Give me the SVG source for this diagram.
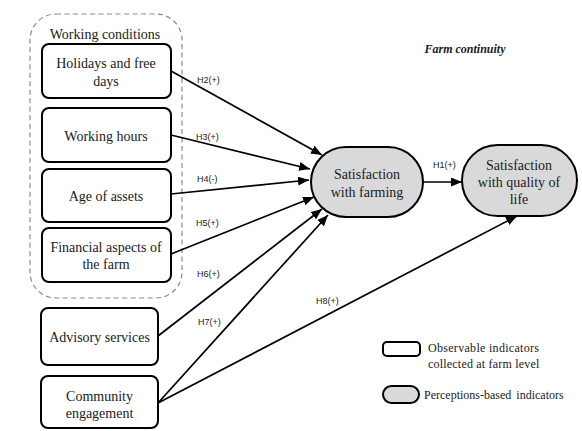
<svg xmlns="http://www.w3.org/2000/svg" width="582" height="431" viewBox="0 0 582 431">
  <style>
    .box { fill: #ffffff; stroke: #000000; stroke-width: 2; }
    .oval { fill: #d9d9d9; stroke: #000000; stroke-width: 2; }
    .group { fill: none; stroke: #8c8c8c; stroke-width: 1.2; stroke-dasharray: 5 3.5; }
    .serif { font-family: "Liberation Serif", Tinos, "DejaVu Serif", serif; }
    .t { font-size: 14px; fill: #1a1a1a; text-anchor: middle; }
    .leg { font-size: 12px; fill: #1a1a1a; }
    .lbl { font-family: "Liberation Sans", Arial, sans-serif; font-size: 9px; fill: #222222; }
    .edge { fill: none; stroke: #000000; stroke-width: 1.7; }
  </style>
  <defs>
    <marker id="arrow" markerUnits="userSpaceOnUse" markerWidth="12" markerHeight="10" refX="11" refY="4.5" orient="auto">
      <path d="M0,0 L11,4.5 L0,9 Z" fill="#000000"/>
    </marker>
  </defs>

  <rect width="582" height="431" fill="#ffffff"/>

  <!-- dashed grouping of working conditions -->
  <g id="working-conditions">
    <rect class="group" x="30" y="14" width="152" height="284" rx="26" ry="26"/>
    <text class="t serif" x="105" y="39">Working conditions</text>
  </g>

  <g id="title">
    <text class="serif" x="465" y="53" font-size="12" font-weight="bold" font-style="italic" text-anchor="middle" fill="#1a1a1a">Farm continuity</text>
  </g>

  <!-- connectors -->
  <g id="connectors">
    <line class="edge" x1="171" y1="71" x2="322" y2="155" marker-end="url(#arrow)"/>
    <line class="edge" x1="171" y1="135" x2="310" y2="169" marker-end="url(#arrow)"/>
    <line class="edge" x1="171" y1="194" x2="309" y2="180" marker-end="url(#arrow)"/>
    <line class="edge" x1="171" y1="254" x2="314" y2="197" marker-end="url(#arrow)"/>
    <line class="edge" x1="158" y1="336" x2="322" y2="209" marker-end="url(#arrow)"/>
    <line class="edge" x1="158" y1="403" x2="328" y2="215" marker-end="url(#arrow)"/>
    <line class="edge" x1="158" y1="403" x2="517" y2="216" marker-end="url(#arrow)"/>
    <line class="edge" x1="423" y1="182" x2="462" y2="182" marker-end="url(#arrow)"/>
    <text class="lbl" x="197" y="83">H2(+)</text>
    <text class="lbl" x="196" y="140">H3(+)</text>
    <text class="lbl" x="197" y="182">H4(-)</text>
    <text class="lbl" x="196" y="226">H5(+)</text>
    <text class="lbl" x="197" y="277">H6(+)</text>
    <text class="lbl" x="198" y="325">H7(+)</text>
    <text class="lbl" x="316" y="304">H8(+)</text>
    <text class="lbl" x="433" y="168">H1(+)</text>
  </g>

  <g id="holidays">
    <rect class="box" x="42" y="44" width="129" height="54" rx="7"/>
    <text class="t serif" x="106" y="68">Holidays and free</text>
    <text class="t serif" x="106" y="86">days</text>
  </g>
  <g id="working-hours">
    <rect class="box" x="42" y="108" width="129" height="54" rx="7"/>
    <text class="t serif" x="106" y="141">Working hours</text>
  </g>
  <g id="age-of-assets">
    <rect class="box" x="42" y="169" width="129" height="53" rx="7"/>
    <text class="t serif" x="106" y="201">Age of assets</text>
  </g>
  <g id="financial">
    <rect class="box" x="42" y="228" width="129" height="54" rx="7"/>
    <text class="t serif" x="106" y="252">Financial aspects of</text>
    <text class="t serif" x="106" y="269">the farm</text>
  </g>
  <g id="advisory">
    <rect class="box" x="41" y="308" width="117" height="57" rx="7"/>
    <text class="t serif" x="99.5" y="342">Advisory services</text>
  </g>
  <g id="community">
    <rect class="box" x="41" y="376" width="117" height="52" rx="7"/>
    <text class="t serif" x="99.5" y="401">Community</text>
    <text class="t serif" x="99.5" y="418">engagement</text>
  </g>

  <g id="satisfaction-farming">
    <rect class="oval" x="311" y="147" width="112" height="70" rx="35" ry="35"/>
    <text class="t serif" x="367" y="179">Satisfaction</text>
    <text class="t serif" x="367" y="197">with farming</text>
  </g>
  <g id="satisfaction-life">
    <rect class="oval" x="462" y="145" width="115" height="71" rx="35.5" ry="35.5"/>
    <text class="t serif" x="519" y="170">Satisfaction</text>
    <text class="t serif" x="519" y="187">with quality of</text>
    <text class="t serif" x="519" y="204">life</text>
  </g>

  <!-- legend -->
  <g id="legend-observable">
    <rect class="box" x="383" y="342" width="37" height="14" rx="4"/>
    <text class="leg serif" x="428" y="352" letter-spacing="0.3">Observable indicators</text>
    <text class="leg serif" x="428" y="368" letter-spacing="0.2">collected at farm level</text>
  </g>
  <g id="legend-perception">
    <rect class="oval" x="383" y="386" width="36" height="17" rx="8.5"/>
    <text class="leg serif" x="424" y="399" word-spacing="2">Perceptions-based indicators</text>
  </g>
</svg>
